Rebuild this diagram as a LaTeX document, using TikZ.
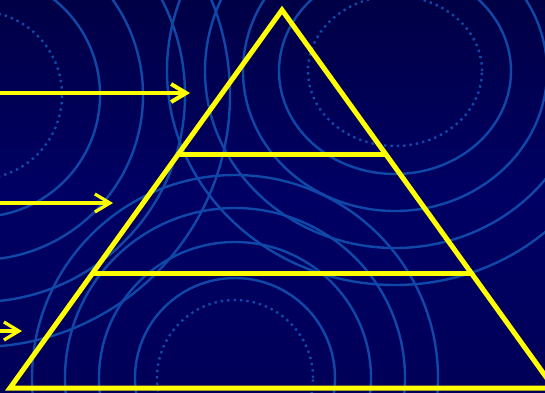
\documentclass[tikz,border=0pt]{standalone}
\usetikzlibrary{arrows.meta,calc}
\definecolor{bgtop}{RGB}{0,0,70}
\definecolor{bgmid}{RGB}{0,0,100}
\definecolor{bgbot}{RGB}{0,0,88}
\definecolor{ringblue}{RGB}{16,72,168}
\definecolor{pyellow}{RGB}{255,255,0}
\begin{document}
\begin{tikzpicture}[x=1pt,y=-1pt,
  ring/.style={draw=ringblue,line width=2.4pt},
  dotring/.style={ring,dash pattern=on 2.4pt off 4pt},
  ylw/.style={draw=pyellow,line width=5pt,line join=miter},
  arr/.style={draw=pyellow,-{Straight Barb[length=15pt,width=18pt]}}]
\useasboundingbox (0,0) rectangle (545,392);
\shade[top color=bgtop,bottom color=bgbot,middle color=bgmid] (0,0) rectangle (545,392);
\begin{scope}
\clip (0,0) rectangle (545,392);
% ring set A (left)
\coordinate (ca) at (-22,95);
\draw[dotring] (ca) circle[radius=84pt];
\foreach \r in {122,165,207,252} \draw[ring] (ca) circle[radius=\r pt];
% ring set B (top right)
\coordinate (cb) at (395,71);
\draw[dotring] (cb) ellipse[x radius=87pt,y radius=75pt];
\draw[ring] (cb) ellipse[x radius=116pt,y radius=103pt];
\draw[ring] (cb) ellipse[x radius=152pt,y radius=140pt];
\draw[ring] (cb) ellipse[x radius=190pt,y radius=177pt];
\draw[ring] (cb) ellipse[x radius=228pt,y radius=214pt];
% ring set C (bottom)
\coordinate (cc) at (235,378);
\draw[dotring] (cc) circle[radius=78pt];
\foreach \r in {100,136,170,203} \draw[ring] (cc) circle[radius=\r pt];
% pyramid
\coordinate (apex) at (282,10);
\coordinate (bl) at (10,388);
\coordinate (br) at (554,388);
\coordinate (l1) at ($(apex)!0.381!(bl)$);
\coordinate (r1) at ($(apex)!0.381!(br)$);
\coordinate (l2) at ($(apex)!0.698!(bl)$);
\coordinate (r2) at ($(apex)!0.698!(br)$);
\draw[ylw] (bl) -- (apex) -- (br) -- cycle;
\draw[ylw] (l1) -- (r1);
\draw[ylw] (l2) -- (r2);
% arrows
\coordinate (a1s) at (-5,93);
\coordinate (a1e) at (190,93);
\coordinate (a2s) at (-5,203);
\coordinate (a2e) at (113,203);
\coordinate (a3s) at (-5,331);
\coordinate (a3e) at (22,331);
\draw[arr,line width=4pt] (a1s) -- (a1e);
\draw[arr,line width=3.2pt] (a2s) -- (a2e);
\draw[arr,line width=3.2pt] (a3s) -- (a3e);
\end{scope}
\end{tikzpicture}
\end{document}
